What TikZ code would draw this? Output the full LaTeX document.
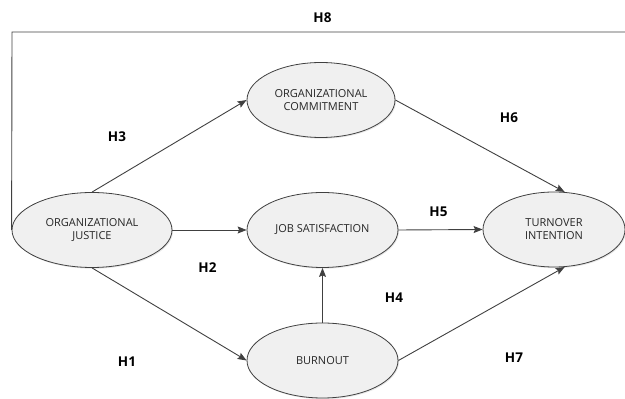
\documentclass[tikz,border=0pt]{standalone}
\usepackage{fontspec}
\setmainfont{Open Sans}
\usetikzlibrary{arrows.meta,shapes.geometric,shadows}
\definecolor{linec}{HTML}{404040}
\definecolor{ellfill}{HTML}{F0F0F0}
\begin{document}
\begin{tikzpicture}[x=1pt,y=1pt,
  construct/.style={ellipse,draw=linec,line width=0.8pt,fill=ellfill,
    drop shadow={opacity=0.2,shadow xshift=1pt,shadow yshift=-1.2pt},
    align=center,inner sep=0pt,font=\fontsize{11}{13}\selectfont,text=black!85},
  hyp/.style={font=\bfseries\fontsize{13.5}{15}\selectfont,text=black},
  link/.style={draw=linec,line width=0.9pt,-{Stealth[length=9pt,width=7pt,inset=1.5pt]}},
  plain/.style={draw=linec,line width=0.9pt}]
\useasboundingbox (0,0) rectangle (625,399);
\node[construct,minimum width=160pt,minimum height=75pt] (oj) at (92,169) {ORGANIZATIONAL\\JUSTICE};
\node[construct,minimum width=148pt,minimum height=75pt] (oc) at (321,299) {ORGANIZATIONAL\\COMMITMENT};
\node[construct,minimum width=151pt,minimum height=75pt] (js) at (322.5,169) {JOB SATISFACTION};
\node[construct,minimum width=151pt,minimum height=75pt] (bo) at (322.5,38.5) {BURNOUT};
\node[construct,minimum width=142pt,minimum height=75pt] (ti) at (554,169.5) {TURNOVER\\INTENTION};
\coordinate (h8c) at (12,367);
\coordinate (h8e) at (625,367);
\draw[plain] (oj.west) -- (h8c) -- (h8e);
\draw[link] (oj.north) -- (oc.west);
\draw[link] (oc.east) -- (ti.74);
\draw[link] (oj.east) -- (js.west);
\draw[link] (js.east) -- (ti.west);
\draw[link] (bo.north) -- (js.south);
\draw[link] (oj.south) -- (bo.west);
\draw[link] (bo.east) -- (ti.-74);
\node[hyp] (h8) at (322.5,381) {H8};
\node[hyp] (h3) at (117,262) {H3};
\node[hyp] (h6) at (509,281) {H6};
\node[hyp] (h5) at (438.5,187.5) {H5};
\node[hyp] (h2) at (207.5,131) {H2};
\node[hyp] (h4) at (394,101) {H4};
\node[hyp] (h1) at (127,37) {H1};
\node[hyp] (h7) at (514,41.5) {H7};
\end{tikzpicture}
\end{document}
